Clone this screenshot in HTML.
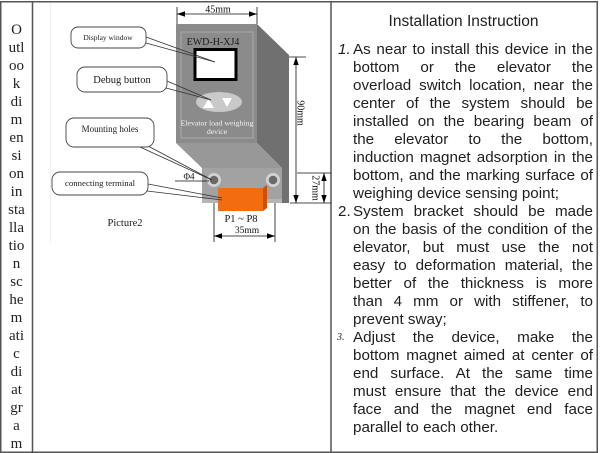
<!DOCTYPE html>
<html><head><meta charset="utf-8">
<style>
html,body{margin:0;padding:0;background:#fff;}
body{width:600px;height:453px;position:relative;overflow:hidden;}
.lc{position:absolute;left:1px;width:31px;top:20.5px;text-align:center;font-family:"Liberation Serif",serif;font-size:15px;line-height:18px;color:#222;}
.t{position:absolute;font-family:"Liberation Sans",sans-serif;color:#1e1e1e;}
.ln{position:absolute;left:353px;width:240px;height:18px;line-height:18px;font-family:"Liberation Sans",sans-serif;font-size:15.2px;color:#1e1e1e;text-align:justify;text-align-last:justify;white-space:normal;}
.ln.l{text-align:left;text-align-last:left;}
.num{position:absolute;left:338px;height:18px;line-height:18px;font-family:"Liberation Sans",sans-serif;font-size:15.2px;color:#1e1e1e;}
</style></head>
<body>
<svg width="600" height="453" style="position:absolute;left:0;top:0" xmlns="http://www.w3.org/2000/svg">
<!-- borders -->
<rect x="0.75" y="1.75" width="596.5" height="450.5" fill="none" stroke="#555" stroke-width="1.5"/>
<line x1="32.5" y1="1" x2="32.5" y2="453" stroke="#555" stroke-width="1.5"/>
<line x1="331" y1="1" x2="331" y2="453" stroke="#555" stroke-width="1.5"/>
<line x1="50.5" y1="3" x2="50.5" y2="242" stroke="#efefef" stroke-width="1"/>

<!-- device -->
<polygon points="257,24 289,55 289,203 282,203 282,168 257,143" fill="#707070"/>
<rect x="176" y="24" width="81" height="119" fill="#8b8b8b"/>
<polygon points="176,143 257,143 282,168 202,168" fill="#989898"/>
<rect x="202" y="168" width="80" height="35" fill="#a2a2a2"/>
<rect x="202" y="199" width="80" height="4" fill="#b4b4b4"/>
<rect x="181" y="32" width="72" height="106" fill="none" stroke="#b0b0b0" stroke-width="0.8"/>
<text x="213" y="45" text-anchor="middle" font-family="Liberation Serif,serif" font-size="10" fill="#1a1a1a">EWD-H-XJ4</text>
<rect x="195" y="49.5" width="41" height="30" fill="#fff" stroke="#000" stroke-width="3"/>
<ellipse cx="219" cy="102" rx="23" ry="10" fill="#c9c9c9"/>
<polygon points="208.5,99 203,108 214,108" fill="#fff"/>
<polygon points="222,98 232,98 227,107" fill="#fff"/>
<text x="217" y="125.5" text-anchor="middle" font-family="Liberation Serif,serif" font-size="7.8" fill="#f2f2f2">Elevator load weighing</text>
<text x="217" y="134" text-anchor="middle" font-family="Liberation Serif,serif" font-size="7.8" fill="#f2f2f2">device</text>
<!-- holes -->
<circle cx="214" cy="180" r="7" fill="#d2d2d2"/>
<circle cx="214" cy="180" r="4.3" fill="#6a6a6a"/>
<circle cx="273" cy="180" r="7" fill="#d2d2d2"/>
<circle cx="273" cy="180" r="4.3" fill="#6a6a6a"/>
<!-- terminal -->
<polygon points="263,188 267,185 267,208 263,211" fill="#c45210"/>
<rect x="218" y="188" width="45" height="23" fill="#f46c10"/>

<!-- 45mm -->
<g stroke="#111" stroke-width="0.8">
<line x1="177" y1="7" x2="177" y2="24"/>
<line x1="257" y1="7" x2="257" y2="24"/>
<line x1="177" y1="14" x2="257" y2="14"/>
<line x1="289" y1="57" x2="306" y2="57"/>
<line x1="290" y1="203" x2="331" y2="203"/>
<line x1="296" y1="57" x2="296" y2="203"/>
<line x1="297" y1="173" x2="331" y2="173"/>
<line x1="324" y1="173" x2="324" y2="203"/>
<line x1="214" y1="203" x2="214" y2="242"/>
<line x1="275" y1="203" x2="275" y2="242"/>
<line x1="214" y1="236" x2="275" y2="236"/>
<line x1="175" y1="181" x2="209" y2="181"/>
</g>
<g fill="#000">
<polygon points="177,14 185,11.3 185,16.7"/>
<polygon points="257,14 249,11.3 249,16.7"/>
<polygon points="296,57 293.3,65 298.7,65"/>
<polygon points="296,203 293.3,195 298.7,195"/>
<polygon points="324,173 321.3,181 326.7,181"/>
<polygon points="324,203 321.3,195 326.7,195"/>
<polygon points="214,236 222,233.3 222,238.7"/>
<polygon points="275,236 267,233.3 267,238.7"/>
</g>
<g font-family="Liberation Serif,serif" fill="#111">
<text x="218" y="12.5" text-anchor="middle" font-size="10">45mm</text>
<text transform="translate(297.5,113) rotate(90)" text-anchor="middle" font-size="10">90mm</text>
<text transform="translate(312.5,188) rotate(90)" text-anchor="middle" font-size="10">27mm</text>
<text x="247" y="233" text-anchor="middle" font-size="9.5">35mm</text>
<text x="241" y="222" text-anchor="middle" font-size="10.5">P1 ~ P8</text>
<text x="189" y="179.5" text-anchor="middle" font-size="9">Φ4</text>
</g>

<!-- callouts -->
<g stroke="#333" stroke-width="0.8" fill="none">
<line x1="146" y1="37" x2="215" y2="62"/>
<line x1="146" y1="43" x2="215" y2="62"/>
<line x1="167" y1="81" x2="211" y2="100"/>
<line x1="166" y1="88" x2="211" y2="100"/>
<line x1="140" y1="147" x2="212" y2="180"/>
<line x1="148" y1="146" x2="212" y2="180"/>
<line x1="148" y1="184" x2="222" y2="198"/>
<line x1="147" y1="191" x2="222" y2="200"/>
</g>
<g stroke="#444" stroke-width="0.9" fill="#fff">
<rect x="71" y="27" width="75" height="21" rx="7"/>
<rect x="77" y="67" width="90" height="25" rx="8"/>
<rect x="66" y="118" width="88" height="29" rx="8"/>
<rect x="52" y="172" width="96" height="23" rx="8"/>
</g>
<g font-family="Liberation Serif,serif" fill="#1a1a1a" text-anchor="middle">
<text x="108" y="40" font-size="7.5">Display window</text>
<text x="122" y="83" font-size="10.5">Debug button</text>
<text x="110" y="132" font-size="9">Mounting holes</text>
<text x="100" y="186" font-size="8.8">connecting terminal</text>
<text x="125" y="226" font-size="10.5">Picture2</text>
</g>
</svg>

<div class="lc">O<br>utl<br>oo<br>k<br>di<br>m<br>en<br>si<br>on<br>in<br>sta<br>lla<br>tio<br>n<br>sc<br>he<br>m<br>ati<br>c<br>di<br>at<br>gr<br>a<br>m</div>

<div class="t" style="left:331px;width:265px;top:12px;line-height:19px;text-align:center;font-size:15.5px;">Installation Instruction</div>

<div class="num" style="top:41px;font-style:italic;">1.</div>
<div class="ln" style="top:41px">As near to install this device in the</div>
<div class="ln" style="top:59px">bottom or the elevator the</div>
<div class="ln" style="top:77px">overload switch location, near the</div>
<div class="ln" style="top:95px">center of the system should be</div>
<div class="ln" style="top:113px">installed on the bearing beam of</div>
<div class="ln" style="top:131px">the elevator to the bottom,</div>
<div class="ln" style="top:149px">induction magnet adsorption in the</div>
<div class="ln" style="top:167px">bottom, and the marking surface of</div>
<div class="ln l" style="top:185px">weighing device sensing point;</div>

<div class="num" style="top:203px;">2.</div>
<div class="ln" style="top:203px">System bracket should be made</div>
<div class="ln" style="top:221px">on the basis of the condition of the</div>
<div class="ln" style="top:239px">elevator, but must use the not</div>
<div class="ln" style="top:257px">easy to deformation material, the</div>
<div class="ln" style="top:275px">better of the thickness is more</div>
<div class="ln" style="top:293px">than 4 mm or with stiffener, to</div>
<div class="ln l" style="top:311px">prevent sway;</div>

<div class="num" style="top:329px;left:337px;font-family:'Liberation Serif',serif;font-style:italic;font-size:10px;">3.</div>
<div class="ln" style="top:329px">Adjust the device, make the</div>
<div class="ln" style="top:347px">bottom magnet aimed at center of</div>
<div class="ln" style="top:365px">end surface. At the same time</div>
<div class="ln" style="top:383px">must ensure that the device end</div>
<div class="ln" style="top:401px">face and the magnet end face</div>
<div class="ln l" style="top:419px">parallel to each other.</div>
</body></html>
